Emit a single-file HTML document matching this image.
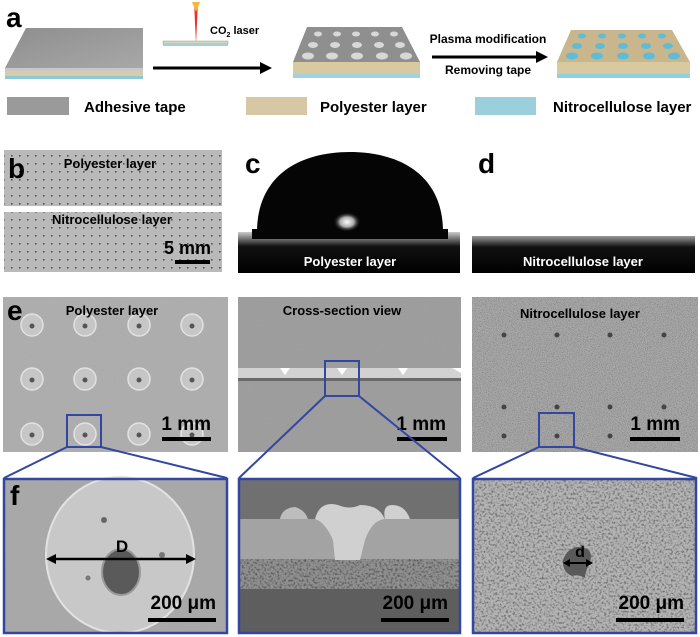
<!DOCTYPE html>
<html><head><meta charset="utf-8"><style>
html,body{margin:0;padding:0;background:#fff;}
svg{display:block;}
text{font-family:"Liberation Sans",sans-serif;font-weight:bold;}
</style></head><body>
<svg width="700" height="637" viewBox="0 0 700 637" xmlns="http://www.w3.org/2000/svg">
<defs>
<filter id="noise" x="0" y="0" width="100%" height="100%">
<feTurbulence type="fractalNoise" baseFrequency="0.9" numOctaves="2" seed="3"/>
<feColorMatrix type="matrix" values="0 0 0 0 0.5  0 0 0 0 0.5  0 0 0 0 0.5  0 0 0 0.15 0"/>
<feComposite in2="SourceGraphic" operator="in"/>
<feBlend in2="SourceGraphic" mode="multiply"/>
</filter>
<filter id="fine" x="0" y="0" width="100%" height="100%">
<feTurbulence type="fractalNoise" baseFrequency="1.2" numOctaves="2" seed="5"/>
<feColorMatrix type="matrix" values="0 0 0 0 0.3  0 0 0 0 0.3  0 0 0 0 0.3  -2 0 0 0 1.1"/>
<feComposite in2="SourceGraphic" operator="in"/>
<feBlend in2="SourceGraphic" mode="multiply"/>
</filter>
<filter id="porous" x="0" y="0" width="100%" height="100%">
<feTurbulence type="fractalNoise" baseFrequency="0.45" numOctaves="2" seed="7"/>
<feColorMatrix type="matrix" values="0 0 0 0 0.35  0 0 0 0 0.35  0 0 0 0 0.35  -3 0 0 0 1.7"/>
<feComposite in2="SourceGraphic" operator="in"/>
<feBlend in2="SourceGraphic" mode="multiply"/>
</filter>
<pattern id="dots" width="8" height="8" patternUnits="userSpaceOnUse"><rect width="8" height="8" fill="#b9b9b9"/><rect x="3" y="3" width="1.6" height="1.6" fill="#555"/></pattern>
<radialGradient id="hl" cx="0.5" cy="0.5" r="0.5"><stop offset="0" stop-color="#fff"/><stop offset="0.5" stop-color="#aaa"/><stop offset="1" stop-color="#000" stop-opacity="0"/></radialGradient>
<linearGradient id="tape" x1="0" y1="0" x2="1" y2="1"><stop offset="0" stop-color="#8e8e8e"/><stop offset="1" stop-color="#a8a8a8"/></linearGradient>
<linearGradient id="cband" x1="0" y1="0" x2="0" y2="1"><stop offset="0" stop-color="#ccc"/><stop offset="0.35" stop-color="#111"/><stop offset="1" stop-color="#000"/></linearGradient>
<linearGradient id="dband" x1="0" y1="0" x2="0" y2="1"><stop offset="0" stop-color="#999"/><stop offset="0.3" stop-color="#111"/><stop offset="1" stop-color="#000"/></linearGradient>
</defs>

<!-- a -->
<text x="6" y="27" font-size="28">a</text>
<polygon points="26,28 143,28 143,68 5,68" fill="url(#tape)"/>
<rect x="5" y="68" width="138" height="3" fill="#c8c8c8"/>
<rect x="5" y="71" width="138" height="5" fill="#d8cba8"/>
<rect x="5" y="76" width="138" height="3" fill="#8cc8d8"/>
<polygon points="194,2 198,2 196,44" fill="#e8332a"/>
<polygon points="192,2 200,2 196,12" fill="#f6b73c"/>
<rect x="163" y="41" width="65" height="3" fill="#ddd3b8" stroke="#999" stroke-width="0.5"/>
<rect x="163" y="44" width="65" height="2" fill="#9fd0dc"/>
<text x="210" y="34" font-size="11">CO<tspan font-size="7" dy="3">2</tspan><tspan dy="-3"> laser</tspan></text>
<line x1="153" y1="68" x2="262" y2="68" stroke="#000" stroke-width="3"/>
<polygon points="260,62 272,68 260,74" fill="#000"/>
<polygon points="307,27 402,27 420,62 293,62" fill="#8f8f8f"/>
<polygon points="293,62 420,62 420,74 293,74" fill="#d9c9a0"/>
<rect x="293" y="74" width="127" height="4" fill="#9fd3e0"/>
<g fill="#d8d8d8">
<ellipse cx="318" cy="34" rx="4" ry="2.5"/><ellipse cx="337" cy="34" rx="4" ry="2.5"/><ellipse cx="356" cy="34" rx="4" ry="2.5"/><ellipse cx="375" cy="34" rx="4" ry="2.5"/><ellipse cx="394" cy="34" rx="4" ry="2.5"/>
<ellipse cx="313" cy="45" rx="5" ry="3"/><ellipse cx="335" cy="45" rx="5" ry="3"/><ellipse cx="357" cy="45" rx="5" ry="3"/><ellipse cx="379" cy="45" rx="5" ry="3"/><ellipse cx="400" cy="45" rx="5" ry="3"/>
<ellipse cx="308" cy="56" rx="6" ry="3.5"/><ellipse cx="332" cy="56" rx="6" ry="3.5"/><ellipse cx="357" cy="56" rx="6" ry="3.5"/><ellipse cx="382" cy="56" rx="6" ry="3.5"/><ellipse cx="406" cy="56" rx="6" ry="3.5"/>
</g>
<text x="488" y="43" font-size="12" text-anchor="middle">Plasma modification</text>
<line x1="432" y1="57" x2="538" y2="57" stroke="#000" stroke-width="3"/>
<polygon points="536,51 548,57 536,63" fill="#000"/>
<text x="488" y="74" font-size="12" text-anchor="middle">Removing tape</text>
<polygon points="571,30 672,30 690,62 557,62" fill="#c9b68c"/>
<polygon points="557,62 690,62 690,74 557,74" fill="#d9c9a0"/>
<rect x="557" y="74" width="133" height="4" fill="#8fd0e0"/>
<g fill="#5fbcd6">
<ellipse cx="582" cy="36" rx="4" ry="2.5"/><ellipse cx="602" cy="36" rx="4" ry="2.5"/><ellipse cx="622" cy="36" rx="4" ry="2.5"/><ellipse cx="642" cy="36" rx="4" ry="2.5"/><ellipse cx="662" cy="36" rx="4" ry="2.5"/>
<ellipse cx="577" cy="46" rx="5" ry="3"/><ellipse cx="600" cy="46" rx="5" ry="3"/><ellipse cx="623" cy="46" rx="5" ry="3"/><ellipse cx="646" cy="46" rx="5" ry="3"/><ellipse cx="668" cy="46" rx="5" ry="3"/>
<ellipse cx="572" cy="56" rx="6" ry="3.5"/><ellipse cx="597" cy="56" rx="6" ry="3.5"/><ellipse cx="623" cy="56" rx="6" ry="3.5"/><ellipse cx="649" cy="56" rx="6" ry="3.5"/><ellipse cx="674" cy="56" rx="6" ry="3.5"/>
</g>
<rect x="7" y="97" width="62" height="18" fill="#9a9a9a"/>
<text x="84" y="112" font-size="15">Adhesive tape</text>
<rect x="246" y="97" width="61" height="18" fill="#d6c8a4"/>
<text x="320" y="112" font-size="15">Polyester layer</text>
<rect x="475" y="97" width="61" height="18" fill="#9ccfdc"/>
<text x="553" y="112" font-size="15">Nitrocellulose layer</text>

<!-- b -->
<rect x="4" y="150" width="218" height="56" fill="url(#dots)"/>
<rect x="4" y="212" width="218" height="60" fill="url(#dots)"/>
<text x="8" y="178" font-size="28">b</text>
<text x="110" y="168" font-size="13" text-anchor="middle">Polyester layer</text>
<text x="112" y="224" font-size="13" text-anchor="middle">Nitrocellulose layer</text>
<text x="211" y="254" font-size="18" text-anchor="end">5 mm</text>
<rect x="175" y="260" width="35" height="4" fill="#000"/>

<!-- c -->
<rect x="238" y="232" width="222" height="41" fill="url(#cband)"/>
<path d="M257,232 C257,175 300,152 350,152 C400,152 443,175 443,232 Z" fill="#050505"/>
<rect x="252" y="229" width="196" height="10" fill="#050505"/>
<ellipse cx="347" cy="222" rx="14" ry="10" fill="url(#hl)"/>
<text x="245" y="173" font-size="28">c</text>
<text x="350" y="266" font-size="13" fill="#fff" text-anchor="middle">Polyester layer</text>

<!-- d -->
<rect x="472" y="236" width="223" height="37" fill="url(#dband)"/>
<text x="478" y="173" font-size="28">d</text>
<text x="583" y="266" font-size="13" fill="#fff" text-anchor="middle">Nitrocellulose layer</text>

<!-- e1 -->
<rect x="3" y="297" width="225" height="155" fill="#b0b0b0" filter="url(#noise)"/>
<g fill="#c6c6c6" stroke="#e2e2e2" stroke-width="1.5">
<circle cx="32" cy="325" r="11"/><circle cx="85" cy="325" r="11"/><circle cx="139" cy="325" r="11"/><circle cx="192" cy="325" r="11"/>
<circle cx="32" cy="379" r="11"/><circle cx="85" cy="379" r="11"/><circle cx="139" cy="379" r="11"/><circle cx="192" cy="379" r="11"/>
<circle cx="32" cy="434" r="11"/><circle cx="85" cy="434" r="11"/><circle cx="139" cy="434" r="11"/><circle cx="192" cy="434" r="11"/>
</g>
<g fill="#555">
<circle cx="32" cy="326" r="2.5"/><circle cx="85" cy="326" r="2.5"/><circle cx="139" cy="326" r="2.5"/><circle cx="192" cy="326" r="2.5"/>
<circle cx="32" cy="380" r="2.5"/><circle cx="85" cy="380" r="2.5"/><circle cx="139" cy="380" r="2.5"/><circle cx="192" cy="380" r="2.5"/>
<circle cx="32" cy="435" r="2.5"/><circle cx="85" cy="435" r="2.5"/><circle cx="139" cy="435" r="2.5"/><circle cx="192" cy="435" r="2.5"/>
</g>
<text x="7" y="320" font-size="28">e</text>
<text x="112" y="315" font-size="13" text-anchor="middle">Polyester layer</text>
<text x="211" y="430" font-size="19" text-anchor="end">1 mm</text>
<rect x="162" y="437" width="49" height="4" fill="#000"/>
<rect x="67" y="415" width="34" height="32" fill="none" stroke="#3346a0" stroke-width="2"/>
<line x1="67" y1="447" x2="4" y2="478" stroke="#3346a0" stroke-width="2"/>
<line x1="101" y1="447" x2="227" y2="478" stroke="#3346a0" stroke-width="2"/>

<!-- e2 -->
<rect x="238" y="297" width="223" height="155" fill="#a0a0a0" filter="url(#noise)"/>
<rect x="238" y="368" width="223" height="10" fill="#d2d2d2"/>
<rect x="238" y="378" width="223" height="3" fill="#6a6a6a"/>
<polygon points="280,368 290,368 285,375" fill="#fff"/><polygon points="337,368 347,368 342,375" fill="#fff"/><polygon points="398,368 408,368 403,375" fill="#fff"/><polygon points="452,368 461,368 461,373" fill="#fff"/>
<text x="342" y="315" font-size="13" text-anchor="middle">Cross-section view</text>
<text x="446" y="430" font-size="19" text-anchor="end">1 mm</text>
<rect x="397" y="437" width="50" height="4" fill="#000"/>
<rect x="325" y="361" width="34" height="35" fill="none" stroke="#3346a0" stroke-width="2"/>
<line x1="325" y1="396" x2="239" y2="478" stroke="#3346a0" stroke-width="2"/>
<line x1="359" y1="396" x2="460" y2="478" stroke="#3346a0" stroke-width="2"/>

<!-- e3 -->
<rect x="472" y="297" width="226" height="155" fill="#a8a8a8" filter="url(#fine)"/>
<g fill="#444">
<circle cx="504" cy="335" r="2.5"/><circle cx="557" cy="335" r="2.5"/><circle cx="610" cy="335" r="2.5"/><circle cx="664" cy="335" r="2.5"/>
<circle cx="504" cy="407" r="2.5"/><circle cx="557" cy="407" r="2.5"/><circle cx="610" cy="407" r="2.5"/><circle cx="664" cy="407" r="2.5"/>
<circle cx="504" cy="436" r="2.5"/><circle cx="557" cy="436" r="2.5"/><circle cx="610" cy="436" r="2.5"/>
</g>
<text x="580" y="318" font-size="13" text-anchor="middle">Nitrocellulose layer</text>
<text x="680" y="430" font-size="19" text-anchor="end">1 mm</text>
<rect x="630" y="437" width="50" height="4" fill="#000"/>
<rect x="539" y="413" width="35" height="34" fill="none" stroke="#3346a0" stroke-width="2"/>
<line x1="539" y1="447" x2="473" y2="478" stroke="#3346a0" stroke-width="2"/>
<line x1="574" y1="447" x2="697" y2="478" stroke="#3346a0" stroke-width="2"/>

<!-- f1 -->
<rect x="4" y="479" width="223" height="154" fill="#ababab" filter="url(#noise)"/>
<ellipse cx="120" cy="555" rx="74" ry="78" fill="#c8c8c8" stroke="#e2e2e2" stroke-width="2"/>
<ellipse cx="121" cy="572" rx="19" ry="23" fill="#5a5a5a" stroke="#999" stroke-width="2"/>
<circle cx="104" cy="520" r="3" fill="#666"/><circle cx="162" cy="555" r="3" fill="#777"/><circle cx="88" cy="578" r="2.5" fill="#777"/>
<line x1="52" y1="559" x2="190" y2="559" stroke="#000" stroke-width="2.5"/>
<polygon points="46,559 56,554 56,564" fill="#000"/><polygon points="196,559 186,554 186,564" fill="#000"/>
<text x="122" y="552" font-size="17" text-anchor="middle">D</text>
<text x="10" y="505" font-size="28">f</text>
<text x="216" y="609" font-size="19" text-anchor="end">200 μm</text>
<rect x="148" y="618" width="68" height="4" fill="#000"/>
<rect x="4" y="479" width="223" height="154" fill="none" stroke="#3346a0" stroke-width="2.5"/>

<!-- f2 -->
<rect x="239" y="479" width="221" height="154" fill="#666"/>
<rect x="239" y="479" width="221" height="40" fill="#707070"/>
<rect x="239" y="519" width="221" height="40" fill="#a6a6a6" filter="url(#noise)"/>
<rect x="239" y="559" width="221" height="30" fill="#909090" filter="url(#porous)"/>
<rect x="239" y="589" width="221" height="44" fill="#5e5e5e"/>
<path d="M315,519 Q320,500 338,505 Q350,510 360,505 Q380,505 385,520 Q382,505 392,505 Q405,505 410,519 L385,519 Q372,520 365,540 L360,560 L335,560 L333,540 Q325,522 315,519 Z" fill="#d0d0d0"/>
<path d="M280,519 Q282,508 295,507 Q305,510 308,519 Z" fill="#bdbdbd"/>
<text x="448" y="609" font-size="19" text-anchor="end">200 μm</text>
<rect x="381" y="618" width="68" height="4" fill="#000"/>
<rect x="239" y="479" width="221" height="154" fill="none" stroke="#3346a0" stroke-width="2.5"/>

<!-- f3 -->
<rect x="473" y="479" width="223" height="154" fill="#b4b4b4" filter="url(#porous)"/>
<path d="M563,560 Q568,546 582,547 Q594,550 590,562 Q585,572 585,578 Q578,574 572,576 Q562,572 563,560 Z" fill="#5a5a5a"/>
<line x1="569" y1="563" x2="587" y2="563" stroke="#000" stroke-width="2"/>
<polygon points="563,563 570,559 570,567" fill="#000"/><polygon points="593,563 586,559 586,567" fill="#000"/>
<text x="580" y="557" font-size="16" text-anchor="middle">d</text>
<text x="684" y="609" font-size="19" text-anchor="end">200 μm</text>
<rect x="616" y="618" width="68" height="4" fill="#000"/>
<rect x="473" y="479" width="223" height="154" fill="none" stroke="#3346a0" stroke-width="2.5"/>
</svg>
</body></html>
